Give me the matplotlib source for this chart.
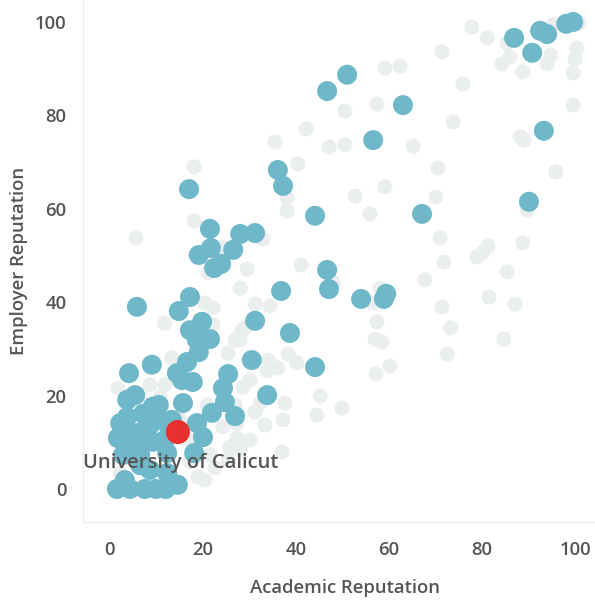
import matplotlib
matplotlib.use("Agg")
import matplotlib.pyplot as plt

plt.rcParams['font.family'] = ['Open Sans', 'DejaVu Sans']

# Other universities (background, grey)
other_x = [77.8, 81.1, 85.4, 86.0, 84.3, 88.8, 94.8, 94.0, 100.4, 100.0, 99.6, 99.6, 100.9, 95.3,
           71.4, 75.9, 59.1, 62.4, 57.4, 50.5, 50.5, 65.2, 73.8, 88.2, 89.0, 95.9, 70.5, 59.1,
           52.7, 55.9, 70.1, 89.7, 71.0, 88.8, 81.3, 80.2, 78.9, 71.8, 85.4, 67.7, 58.1, 56.6,
           57.4, 57.0, 58.5, 60.2, 57.2, 71.4, 73.3, 72.5, 81.5, 87.1, 84.7, 49.9, 5.6, 18.1,
           18.1, 35.5, 42.2, 47.1, 40.4, 38.1, 38.1, 32.9, 24.1, 41.1, 29.5, 48.0, 31.2, 34.4,
           28.0, 29.0, 28.0, 38.3, 40.2, 34.0, 36.1, 33.8, 30.1, 45.2, 37.6, 31.2, 37.2, 33.3,
           44.5, 32.3, 21.1, 20.4, 22.2, 11.8, 22.2, 28.4, 26.9, 13.3, 25.4, 1.7, 11.8, 28.6,
           37.0, 18.9, 27.3, 25.8, 22.6, 17.2, 20.9, 2.2, 10.8, 15.1, 27.3, 24.3, 30.1, 28.0,
           25.4, 20.4, 17.2, 21.5, 26.9, 8.6, 6.5]
other_y = [98.9, 96.6, 95.5, 92.5, 91.0, 89.3, 92.9, 91.0, 94.4, 92.1, 89.1, 82.2, 99.8, 99.4,
           93.6, 86.7, 90.1, 90.6, 82.4, 80.9, 73.7, 73.4, 78.6, 75.4, 74.7, 67.9, 68.7, 64.7,
           62.7, 58.9, 62.5, 59.7, 53.7, 52.7, 52.0, 50.7, 49.7, 48.6, 46.5, 44.8, 43.0, 39.8,
           35.8, 32.1, 31.5, 26.3, 24.6, 39.0, 34.5, 28.9, 41.1, 39.6, 32.1, 17.3, 53.7, 69.0,
           57.4, 74.3, 77.1, 73.2, 69.6, 62.3, 59.5, 53.5, 51.8, 48.0, 47.1, 44.3, 39.6, 39.2,
           43.0, 34.5, 31.9, 28.9, 27.0, 27.6, 25.9, 25.3, 23.3, 19.9, 18.4, 16.5, 14.8, 13.7,
           15.8, 18.4, 46.3, 39.8, 38.8, 35.5, 35.1, 34.0, 31.9, 28.1, 29.1, 21.6, 22.3, 21.8,
           7.9, 2.6, 10.9, 9.0, 4.5, 5.8, 18.0, 3.4, 19.7, 14.8, 14.1, 13.3, 10.5, 8.4,
           6.2, 1.9, 10.5, 7.3, 18.0, 22.3, 20.1]

# Peer universities (blue)
peer_x = [99.6, 98.1, 94.0, 92.5, 86.9, 90.8, 93.3, 90.1, 67.1, 63.0, 56.6, 51.0, 46.7, 36.1,
          37.2, 44.1, 17.0, 54.0, 59.4, 58.9, 46.7, 47.1, 36.8, 31.2, 38.7, 30.5, 44.1, 33.8,
          21.5, 28.0, 31.2, 26.5, 21.7, 19.1, 23.9, 22.4, 5.8, 17.2, 14.8, 19.8, 17.2, 21.5,
          18.7, 19.1, 16.6, 9.0, 4.1, 14.4, 17.8, 15.5, 25.4, 24.3, 5.4, 3.7, 15.7, 24.7,
          10.5, 9.2, 21.9, 26.9, 7.1, 3.7, 2.2, 10.8, 18.7, 20.0, 1.7, 6.0, 9.2, 4.9,
          2.8, 12.3, 18.1, 6.5, 12.3, 14.6, 1.5, 4.3, 7.5, 9.9, 12.0, 8.6, 12.9, 3.2,
          7.5, 11.8, 6.5, 8.6, 3.2, 13.3]
peer_y = [100.0, 99.6, 97.4, 98.1, 96.6, 93.4, 76.7, 61.5, 58.9, 82.2, 74.7, 88.7, 85.2, 68.3,
          64.9, 58.5, 64.2, 40.7, 41.8, 40.7, 46.9, 42.8, 42.4, 36.0, 33.4, 27.6, 26.1, 20.1,
          55.7, 54.6, 54.8, 51.2, 51.6, 50.1, 48.2, 47.3, 39.0, 41.1, 38.1, 35.8, 34.0, 32.1,
          31.9, 29.3, 27.2, 26.6, 24.8, 24.8, 22.9, 23.3, 24.6, 21.6, 20.1, 19.1, 18.4, 18.6,
          18.0, 17.6, 16.3, 15.6, 16.1, 15.4, 14.1, 14.8, 14.1, 11.1, 10.9, 12.0, 10.1, 9.0,
          7.3, 7.7, 7.7, 5.1, 3.4, 0.9, 0.0, 0.0, 0.0, 0.0, 0.0, 13.7, 12.6, 12.6,
          10.5, 10.5, 7.3, 4.1, 1.9, 14.8]

# Highlighted university
focus_name = "University of Calicut"
focus_x = [14.6]
focus_y = [12.2]

x_ticks = [0, 20, 40, 60, 80, 100]
y_ticks = [0, 20, 40, 60, 80, 100]

W = 'semibold'
TXT = '#555555'
fig = plt.figure(figsize=(5.95, 6.01), dpi=100)
ax = fig.add_axes([83 / 595, 79 / 601, 1 - 83 / 595, 1 - 79 / 601])

ax.scatter(other_x, other_y, s=117, color='#ebeeef', edgecolors='none', zorder=2)
ax.scatter(peer_x, peer_y, s=207, color='#6fb8c9', edgecolors='none', zorder=3)
ax.scatter(focus_x, focus_y, s=300, color='#e8302f', edgecolors='none', zorder=4)

ax.annotate(focus_name, (focus_x[0], focus_y[0]), xytext=(2, -22.5), textcoords='offset points',
            ha='center', va='center', fontsize=14.5, color=TXT, fontweight=W, zorder=5)

ax.set_xlim(-5.8, 104.3)
ax.set_ylim(-7.07, 104.7)
ax.set_xticks(x_ticks)
ax.set_yticks(y_ticks)
ax.tick_params(length=0, labelsize=13.3, labelcolor=TXT)
ax.tick_params(axis='x', pad=14)
ax.tick_params(axis='y', pad=12)
for lbl in ax.get_xticklabels() + ax.get_yticklabels():
    lbl.set_fontweight(W)

for side in ['top', 'right']:
    ax.spines[side].set_visible(False)
for side in ['left', 'bottom']:
    ax.spines[side].set_color('#eeeeee')
    ax.spines[side].set_linewidth(1)

ax.set_xlabel('Academic Reputation', fontsize=13.3, color=TXT, fontweight=W, labelpad=14)
ax.set_ylabel('Employer Reputation', fontsize=13.3, color=TXT, fontweight=W, labelpad=5)
ax.xaxis.label.set_x(0.512)

fig.savefig('out.png', dpi=100)
